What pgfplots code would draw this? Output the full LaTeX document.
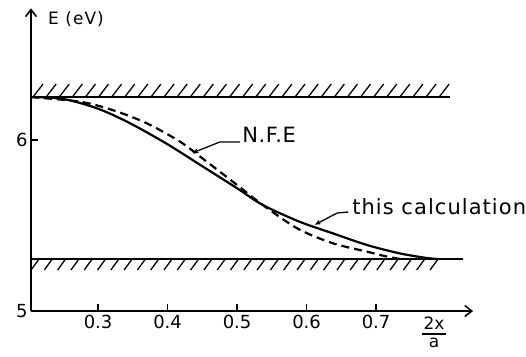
\documentclass[border=0pt]{standalone}
\usepackage{fontspec}
\setmainfont{DejaVu Sans}
\usepackage{pgfplots}
\pgfplotsset{compat=1.18}
\usetikzlibrary{arrows.meta}
\pgfplotstableread{
x y
0.2035 6.251
0.250 6.240
0.300 6.183
0.346 6.098
0.400 5.975
0.451 5.844
0.500 5.718
0.537 5.620
0.590 5.522
0.638 5.454
0.687 5.386
0.734 5.337
0.773 5.310
0.790 5.304
}\calc
\pgfplotstableread{
x y
0.2035 6.251
0.274 6.224
0.321 6.175
0.370 6.098
0.418 5.990
0.451 5.890
0.500 5.737
0.537 5.620
0.588 5.480
0.638 5.396
0.687 5.347
0.716 5.318
0.735 5.304
}\nfe
\begin{document}
\begin{tikzpicture}
\begin{axis}[
  x=695bp, y=171bp,
  xmin=0.2035, xmax=0.8396, ymin=5, ymax=6.77,
  axis lines=left,
  axis line style={line width=1.6bp, -{Straight Barb[length=7bp,width=11bp,line width=1.6bp]}},
  xtick={0.3,0.4,0.5,0.6,0.7}, ytick={5,6},
  major tick length=7bp,
  every tick/.style={line width=1.6bp, black},
  tick align=inside,
  /pgf/number format/assume math mode=true,
  ticklabel style={font=\fontsize{18bp}{18bp}\selectfont},
  xticklabel style={yshift=-1bp},
  clip=false,
]
% band edges
\addplot[line width=2.8bp, black] coordinates {(0.2035,6.251) (0.8065,6.251)};
\addplot[line width=2.8bp, black] coordinates {(0.2035,5.304) (0.825,5.304)};
% curves
\addplot[line width=2.2bp, black, smooth] table {\calc};
\addplot[line width=2.2bp, black, smooth, dash pattern=on 8bp off 5bp] table {\nfe};
% hatching
\pgfplotsinvokeforeach{0,...,31}{
  \draw[line width=1.3bp] ([xshift=#1*13.1bp+2bp]axis cs:0.2035,6.251) -- ++(10bp,13bp);
}
\pgfplotsinvokeforeach{0,...,30}{
  \draw[line width=1.3bp] ([xshift=#1*13.3bp+8bp]axis cs:0.2035,5.304) -- ++(-8bp,-11bp);
}
% labels
\node[anchor=base west, inner sep=0, font=\fontsize{17bp}{17bp}\selectfont\addfontfeature{LetterSpace=6}] at (axis cs:0.228,6.678) {E (eV)};
\node[anchor=base west, inner sep=0, font=\fontsize{21bp}{21bp}\selectfont\addfontfeature{LetterSpace=3}] at (axis cs:0.5072,5.988) {N.F.E};
\node[anchor=base west, inner sep=0, font=\fontsize{21bp}{21bp}\selectfont\addfontfeature{LetterSpace=5}] at (axis cs:0.6655,5.567) {this calculation};
% x-axis label 2x/a
\draw[line width=1.4bp] (axis cs:0.7661,4.8655) -- (axis cs:0.8006,4.8655);
\node[anchor=south, inner sep=0, yshift=4bp, font=\fontsize{17bp}{17bp}\selectfont] at (axis cs:0.7834,4.8655) {2x};
\node[anchor=north, inner sep=0, yshift=-4bp, font=\fontsize{17bp}{17bp}\selectfont] at (axis cs:0.7834,4.8655) {a};
% leaders
\draw[line width=1.3bp, -{Stealth[length=6bp,width=5bp]}] (axis cs:0.504,5.988) -- (axis cs:0.475,5.988) -- (axis cs:0.436,5.925);
\draw[line width=1.3bp, -{Stealth[length=6bp,width=5bp]}] (axis cs:0.660,5.579) -- (axis cs:0.644,5.573) -- (axis cs:0.612,5.505);
% bounding box corners
\coordinate (bl) at (axis cs:0.1589,4.7368);
\coordinate (tr) at (axis cs:0.9157,6.8187);
\end{axis}
\pgfresetboundingbox
\useasboundingbox (bl) rectangle (tr);
\end{tikzpicture}
\end{document}
